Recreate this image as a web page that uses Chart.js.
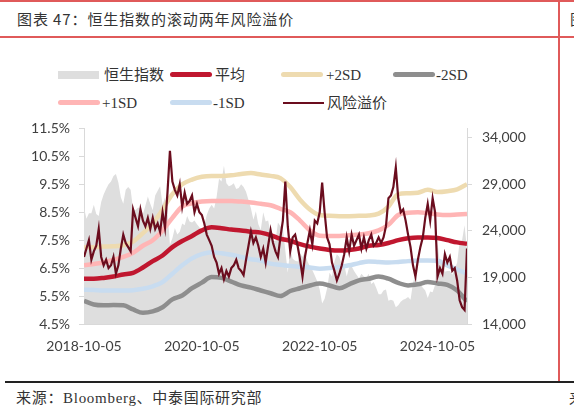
<!DOCTYPE html>
<html><head><meta charset="utf-8">
<script src="https://cdn.jsdelivr.net/npm/chart.js@4.4.1/dist/chart.umd.min.js"></script>
<style>
html,body{margin:0;padding:0;background:#fff;width:574px;height:417px;overflow:hidden;position:relative;}
.hl{position:absolute;left:0;width:574px;height:2px;background:#E05A5A;}
#vline{position:absolute;left:558px;top:0;width:2px;height:383px;background:#E05A5A;}
#title{position:absolute;left:17px;top:8px;font:15px 'Noto Sans CJK SC',sans-serif;letter-spacing:0.9px;color:#333;white-space:nowrap;line-height:22px;}
#title2{position:absolute;left:570px;top:8px;font:15px 'Noto Sans CJK SC',sans-serif;color:#333;line-height:22px;}
#bline{position:absolute;left:5px;top:381px;width:569px;height:2px;background:#222;}
#source{position:absolute;left:16px;top:388px;font:15px 'Liberation Serif','Noto Sans CJK SC',serif;letter-spacing:0.7px;color:#333;white-space:nowrap;line-height:20px;}
#source2{position:absolute;left:569px;top:388px;font:15px 'Noto Sans CJK SC',serif;color:#333;line-height:20px;}
#wrap{position:absolute;left:0;top:110px;width:558px;height:260px;}
.lg{position:absolute;height:20px;white-space:nowrap;font:15px 'Liberation Serif','Noto Sans CJK SC',serif;color:#333;line-height:20px;}
.mk{position:absolute;left:0;}
.tx{position:absolute;top:0;}
</style></head><body>
<div class="hl" style="top:0"></div>
<div id="title">图表 47：恒生指数的滚动两年风险溢价</div>
<div id="title2">图</div>
<div class="hl" style="top:36px"></div>
<div id="vline"></div>
<div id="legend"></div>
<div id="wrap"><canvas id="c"></canvas></div>
<div id="bline"></div>
<div id="source">来源：Bloomberg、中泰国际研究部</div>
<div id="source2">来</div>
<script>
// x axis: months after 2018-10-05
const dailyStepMonths = 0.5;   // index & premium sampled every half month
const bandStepMonths = 2;      // bands sampled every two months
const xTickPos = [0, 24, 48, 72];
const xTickLabels = ['2018-10-05', '2020-10-05', '2022-10-05', '2024-10-05'];
const leftTicks = [4.5, 5.5, 6.5, 7.5, 8.5, 9.5, 10.5, 11.5];
const rightTicks = [14000, 19000, 24000, 29000, 34000];
const seriesNames = ['恒生指数', '平均', '+2SD', '-2SD', '+1SD', '-1SD', '风险溢价'];

const hsi = [
26500,25300,25900,25900,26800,25800,25600,27100,27900,28500,
29000,29300,29900,30100,29200,27600,26900,28400,28700,28400,
26300,26200,26500,26400,25800,26700,27700,26900,26200,27800,
28300,28800,26800,27600,26300,22500,23200,24300,23600,23900,
24800,24600,25600,25000,24900,25100,24700,24400,23900,24600,
25700,26400,26800,26400,27600,29600,29300,31000,29100,28800,
28900,29100,28500,28600,29000,28700,28200,27300,26400,25200,
26100,24700,24100,26000,25000,25100,23800,22900,22900,24900,
24500,24300,21900,19500,22100,21000,20800,20700,21600,21200,
21800,20700,20200,19800,19200,18600,17700,16200,16700,17800,
19500,19100,20700,21500,21200,20300,20400,19100,20100,20200,
19700,19300,18900,19400,19100,19000,19400,18300,18500,17900,
17200,17200,17600,17700,16500,16600,16500,15800,16000,16400,
16600,16700,16900,16600,18400,19400,18400,18300,17900,17600,
16800,17500,17400,18200,22700,20500,20800,19600,19700,19700,
19300,19900,20600,22800,23000,24600,22000];

const premium = [
6.9,7.2,7.5,6.8,7.1,7.3,7.9,6.9,6.6,6.8,
6.5,6.6,6.9,6.3,6.6,7.2,7.7,7.4,7.25,7.1,
8.6,8.3,8.0,8.6,8.2,8.0,8.3,7.9,8.3,7.9,
8.1,7.8,8.5,7.95,9.2,10.7,9.6,9.3,9.1,9.5,
8.7,9.2,8.8,8.9,9.1,8.5,8.8,8.5,8.4,8.1,
7.7,7.5,7.3,6.9,6.7,6.3,6.5,6.1,6.4,6.2,
6.5,6.6,6.8,6.5,6.4,6.25,6.8,7.3,7.8,7.4,
7.6,7.3,6.9,7.2,6.7,7.3,7.85,7.4,7.1,6.9,
7.6,8.2,9.6,8.0,7.1,7.6,7.7,7.3,6.8,6.2,
6.9,7.4,7.85,7.35,8.2,8.1,8.5,9.56,8.5,7.6,
7.35,6.7,6.4,6.06,6.3,6.6,7.0,7.6,7.1,7.7,
7.3,7.5,7.7,7.2,7.6,7.2,7.5,7.7,7.3,7.4,
7.6,7.4,7.6,8.0,9.0,9.1,9.4,10.1,9.0,8.5,
8.6,8.2,7.7,7.25,6.6,6.2,6.8,7.25,7.6,8.3,
8.8,8.2,9.0,8.5,6.2,6.5,6.3,7.0,6.7,6.9,
6.4,6.5,6.05,5.35,5.1,5.0,7.2];

const mean = [6.12,6.12,6.15,6.2,6.27,6.33,6.52,6.75,6.95,7.25,
7.47,7.65,7.85,7.96,7.93,7.88,7.85,7.8,7.77,7.68,
7.55,7.48,7.36,7.27,7.2,7.15,7.13,7.15,7.2,7.3,
7.33,7.4,7.5,7.57,7.6,7.6,7.58,7.5,7.42,7.37];
const plus1 = [6.6,6.65,6.7,6.8,6.9,7.05,7.3,7.5,7.85,8.3,
8.7,8.82,8.88,8.9,8.9,8.9,8.88,8.85,8.8,8.75,
8.62,8.5,8.2,7.85,7.66,7.65,7.65,7.68,7.7,7.75,
7.85,8.05,8.4,8.48,8.5,8.47,8.42,8.4,8.42,8.44];
const plus2 = [7.25,7.25,7.27,7.28,7.32,7.45,7.75,8.1,8.6,9.15,
9.5,9.67,9.77,9.8,9.8,9.82,9.87,9.9,9.85,9.8,
9.72,9.4,8.95,8.6,8.4,8.37,8.36,8.36,8.37,8.38,
8.45,8.7,9.15,9.18,9.2,9.3,9.22,9.25,9.32,9.5];
const minus1 = [5.73,5.72,5.7,5.7,5.7,5.71,5.76,5.85,6.0,6.3,
6.6,6.85,7.0,7.07,7.03,6.98,6.9,6.82,6.77,6.66,
6.62,6.58,6.55,6.52,6.48,6.5,6.54,6.6,6.68,6.74,
6.72,6.7,6.72,6.75,6.77,6.77,6.76,6.6,6.45,6.3];
const minus2 = [5.33,5.2,5.17,5.18,5.17,5.02,4.9,4.95,5.1,5.38,
5.52,5.78,5.98,6.18,6.15,6.02,5.88,5.8,5.7,5.6,
5.5,5.68,5.78,5.88,5.95,5.88,5.78,5.92,6.06,6.12,
6.2,6.12,5.97,5.88,5.92,6.0,5.95,5.9,5.7,5.3];

const colors = {
  hsi: '#DEDEDE', mean: '#C0172F', plus2: '#EEDBB0', minus2: '#8E8E8E',
  plus1: '#FFB5B5', minus1: '#C8DCF0', premium: '#6B0D1E'
};

const toPts = (arr, step) => arr.map((v, i) => ({x: i * step, y: v}));

// HTML legend
const legendItems = [
  {name: seriesNames[0], kind: 'box', color: colors.hsi, x: 58, y: 75, tx: 46},
  {name: seriesNames[1], kind: 'line', color: colors.mean, x: 170, y: 75, tx: 45},
  {name: seriesNames[2], kind: 'line', color: colors.plus2, x: 281, y: 75, tx: 45},
  {name: seriesNames[3], kind: 'line', color: colors.minus2, x: 393, y: 75, tx: 43},
  {name: seriesNames[4], kind: 'line', color: colors.plus1, x: 58, y: 103, tx: 44},
  {name: seriesNames[5], kind: 'line', color: colors.minus1, x: 170, y: 103, tx: 43},
  {name: seriesNames[6], kind: 'thin', color: colors.premium, x: 283, y: 103, tx: 44}
];
const lg = document.getElementById('legend');
legendItems.forEach(it => {
  const d = document.createElement('div');
  d.className = 'lg';
  d.style.left = it.x + 'px';
  d.style.top = (it.y - 10) + 'px';
  const m = document.createElement('div');
  m.className = 'mk';
  m.style.background = it.color;
  if (it.kind === 'box') { m.style.width = '41px'; m.style.height = '8px'; m.style.top = '6px'; }
  else if (it.kind === 'line') { m.style.width = '42px'; m.style.height = '5px'; m.style.top = '7px'; m.style.borderRadius = '3px'; }
  else { m.style.width = '41px'; m.style.height = '2px'; m.style.top = '9px'; }
  const t = document.createElement('span');
  t.className = 'tx';
  t.style.left = it.tx + 'px';
  t.textContent = it.name;
  d.appendChild(m); d.appendChild(t);
  lg.appendChild(d);
});

Chart.defaults.font.family = 'Lato';
Chart.defaults.font.size = 14;
Chart.defaults.color = '#404040';

const axisGray = '#D9D9D9';
new Chart(document.getElementById('c'), {
  type: 'line',
  data: {
    datasets: [
      {label: seriesNames[6], data: toPts(premium, dailyStepMonths), yAxisID: 'yL', borderColor: colors.premium, borderWidth: 2.2, pointRadius: 0, tension: 0, order: 0},
      {label: seriesNames[1], data: toPts(mean, bandStepMonths), yAxisID: 'yL', borderColor: colors.mean, borderWidth: 4.5, pointRadius: 0, cubicInterpolationMode: 'monotone', order: 1},
      {label: seriesNames[3], data: toPts(minus2, bandStepMonths), yAxisID: 'yL', borderColor: colors.minus2, borderWidth: 4.5, pointRadius: 0, cubicInterpolationMode: 'monotone', order: 2},
      {label: seriesNames[5], data: toPts(minus1, bandStepMonths), yAxisID: 'yL', borderColor: colors.minus1, borderWidth: 4.5, pointRadius: 0, cubicInterpolationMode: 'monotone', order: 3},
      {label: seriesNames[4], data: toPts(plus1, bandStepMonths), yAxisID: 'yL', borderColor: colors.plus1, borderWidth: 4.5, pointRadius: 0, cubicInterpolationMode: 'monotone', order: 4},
      {label: seriesNames[2], data: toPts(plus2, bandStepMonths), yAxisID: 'yL', borderColor: colors.plus2, borderWidth: 4.5, pointRadius: 0, cubicInterpolationMode: 'monotone', order: 5},
      {label: seriesNames[0], data: toPts(hsi, dailyStepMonths), yAxisID: 'yR', borderWidth: 0, borderColor: colors.hsi, backgroundColor: colors.hsi, fill: 'start', pointRadius: 0, tension: 0, order: 10}
    ]
  },
  options: {
    responsive: true, maintainAspectRatio: false, animation: false,
    layout: {padding: {top: 17, left: 0, right: 0, bottom: 0}},
    plugins: {legend: {display: false}, tooltip: {enabled: false}},
    scales: {
      x: {
        type: 'linear', min: 0, max: 78,
        afterBuildTicks: s => { s.ticks = xTickPos.map(v => ({value: v})); },
        afterFit: s => { s.height = 46; },
        ticks: {autoSkip: false, maxRotation: 0, padding: 14, callback: v => xTickLabels[xTickPos.indexOf(v)]},
        grid: {display: false, drawTicks: false},
        border: {display: true, color: axisGray}
      },
      yL: {
        position: 'left', min: 4.5, max: 11.5,
        afterBuildTicks: s => { s.ticks = leftTicks.map(v => ({value: v})); },
        afterFit: s => { s.width = 84; },
        ticks: {padding: 9, callback: v => v.toFixed(1) + '%'},
        grid: {drawOnChartArea: false, drawTicks: true, tickLength: 5, color: axisGray},
        border: {display: true, color: axisGray}
      },
      yR: {
        position: 'right', min: 14000, max: 35000,
        afterBuildTicks: s => { s.ticks = rightTicks.map(v => ({value: v})); },
        afterFit: s => { s.width = 91; },
        ticks: {padding: 10, callback: v => v.toLocaleString('en-US')},
        grid: {drawOnChartArea: false, drawTicks: true, tickLength: 5, color: axisGray},
        border: {display: true, color: axisGray}
      }
    }
  }
});
</script>
</body></html>
